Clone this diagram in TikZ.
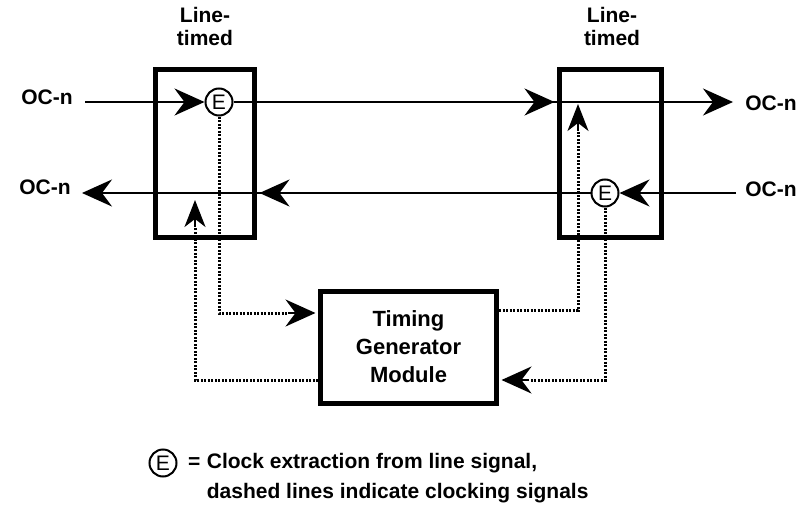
\documentclass[tikz,border=0pt]{standalone}
\usepackage{fontspec}
\setmainfont{Liberation Sans}
\usetikzlibrary{arrows.meta}
\begin{document}
\begin{tikzpicture}[x=1pt,y=-1pt,
  lbl/.style={font=\fontsize{21}{23}\selectfont\bfseries, inner sep=0pt, align=center},
  blk/.style={draw, line width=5pt, inner sep=0pt},
  sig/.style={line width=2pt},
  clk/.style={line width=3pt, dash pattern=on 2pt off 1.5pt},
  bigtip/.style={-{Stealth[length=30pt,width=27pt,inset=10pt]}},
  smalltip/.style={-{Stealth[length=27pt,width=21pt,inset=8pt]}},
  ecirc/.style={draw, circle, line width=2pt, minimum size=27pt, inner sep=0pt,
    font=\fontsize{21}{21}\selectfont, fill=white}]
\useasboundingbox (0,0) rectangle (806,519);

% blocks
\node[blk, minimum width=99pt, minimum height=168pt] (LB) at (205,153.5) {};
\node[blk, minimum width=102pt, minimum height=168pt] (RB) at (610.5,153.5) {};
\node[blk, minimum width=176pt, minimum height=112pt, lbl, font=\fontsize{22}{28}\selectfont\bfseries] (TG) at (408.5,347) {Timing\\Generator\\Module};

% labels
\node[lbl] (LBt) at (205,26) {Line-\\timed};
\node[lbl] (RBt) at (612,26) {Line-\\timed};
\node[lbl] (oc1) at (47,97) {OC-n};
\node[lbl] (oc2) at (45,187) {OC-n};
\node[lbl] (oc3) at (771,103) {OC-n};
\node[lbl] (oc4) at (771,189) {OC-n};

% extraction circles
\node[ecirc] (EL) at (219,102) {E};
\node[ecirc] (ER) at (605,193) {E};

% signal path coordinates
\coordinate (inL) at (85,102);
\coordinate (outR) at (733,102);
\coordinate (inR) at (736,193);
\coordinate (outL) at (82,193);

% top line
\draw[sig, bigtip] (inL) -- (EL.west);
\draw[sig, bigtip] (EL.east) -- (outR);
\draw[sig, bigtip] (EL.east) -- ([xshift=-2.5pt]RB.west |- EL);
% bottom line
\draw[sig, bigtip] (inR) -- (ER.east);
\draw[sig, bigtip] (ER.west) -- (outL);
\draw[sig, bigtip] (ER.west) -- ([xshift=2.5pt]LB.east |- ER);

% clock corners
\coordinate (c1) at (219,313);
\coordinate (c2) at (195,380);
\coordinate (c3) at (578,310);
\coordinate (c4) at (605,380);
\coordinate (t2) at (195,200);
\coordinate (t3) at (578,104);

% clocking signals
\draw[clk] (EL.south) -- (c1) -- ([xshift=-30pt]TG.west |- c1);
\draw[sig, bigtip] ([xshift=-30pt]TG.west |- c1) -- ([xshift=-2.5pt]TG.west |- c1);
\draw[clk] (TG.west |- c2) -- (c2) -- ([yshift=-27pt]t2);
\draw[sig, smalltip] ([yshift=-27pt]t2) -- (t2);
\draw[clk] (TG.east |- c3) -- (c3) -- ([yshift=-27pt]t3);
\draw[sig, smalltip] ([yshift=-27pt]t3) -- (t3);
\draw[clk] (ER.south) -- (c4) -- ([xshift=30pt]TG.east |- c4);
\draw[sig, bigtip] ([xshift=30pt]TG.east |- c4) -- ([xshift=2.5pt]TG.east |- c4);

% legend
\node[ecirc] (LE) at (163,463) {E};
\node[lbl, anchor=west] (leq) at (188,463) {=};
\node[lbl, anchor=base west] (l1) at ([xshift=6pt]leq.base east) {Clock extraction from line signal,};
\node[lbl, anchor=base west] (l2) at ([yshift=-30pt]l1.base west) {dashed lines indicate clocking signals};
\end{tikzpicture}
\end{document}
